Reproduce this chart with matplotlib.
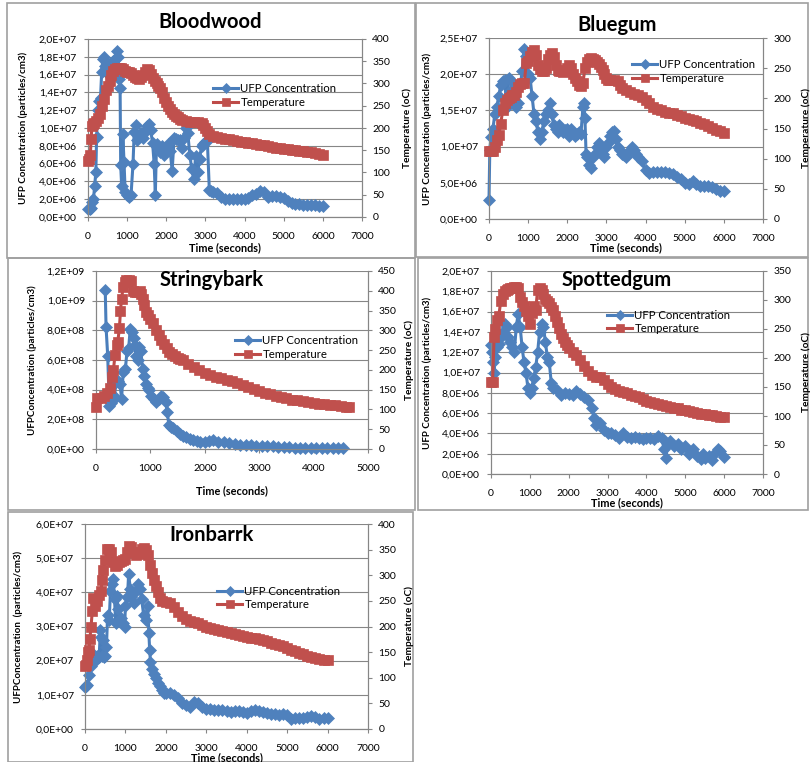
import numpy as np
import matplotlib
matplotlib.use("Agg")
import matplotlib.pyplot as plt
from matplotlib.ticker import FuncFormatter, MultipleLocator
from matplotlib.patches import Rectangle

plt.rcParams['font.family'] = ['Lato', 'DejaVu Sans']

# ---------------- DATA ----------------
# Bloodwood
bw_t_time = [0, 30, 60, 80, 100, 130, 160, 200, 250, 300, 350, 400, 450, 500, 550, 600, 650, 700, 750, 800,
             850, 900, 950, 1000, 1050, 1100, 1150, 1200, 1250, 1300, 1350, 1400, 1450, 1500, 1550, 1600, 1650,
             1700, 1750, 1800, 1850, 1900, 1950, 2000, 2050, 2100, 2150, 2200, 2250, 2300, 2350, 2400, 2500,
             2600, 2700, 2800, 2900, 2950, 3000, 3050, 3100, 3200, 3300, 3400, 3500, 3600, 3700, 3800, 3900,
             4000, 4100, 4200, 4300, 4400, 4500, 4600, 4700, 4800, 4900, 5000, 5100, 5200, 5300, 5400, 5500,
             5600, 5700, 5800, 5900, 6000]
bw_temp = [125, 130, 140, 175, 205, 210, 212, 215, 222, 232, 250, 265, 285, 295, 305, 318, 328, 332, 335, 335,
           334, 332, 328, 326, 325, 323, 318, 314, 312, 311, 314, 318, 326, 332, 330, 322, 312,
           306, 300, 295, 289, 280, 268, 258, 250, 242, 237, 232, 227, 224, 220, 217, 215,
           214, 214, 213, 211, 206, 200, 193, 187, 183, 180, 178, 176, 175, 173, 171, 169,
           168, 167, 166, 164, 162, 161, 159, 157, 156, 155, 153, 152, 151, 150, 149, 148,
           147, 146, 144, 142, 140]
bw_u_time = [0, 40, 80, 110, 140, 170, 200, 220, 250, 280, 320, 350, 380, 410, 440, 470, 500, 530, 570, 610,
             650, 690, 730, 770, 800, 820, 835, 860, 890, 920, 950, 1000, 1050, 1100, 1150, 1180, 1220, 1260,
             1300, 1350, 1400, 1450, 1500, 1560, 1600, 1650, 1690, 1720, 1750, 1800, 1850, 1900, 1950, 2000,
             2050, 2100, 2150, 2200, 2250, 2300, 2350, 2400, 2450, 2500, 2550, 2600, 2650, 2700, 2750, 2800,
             2850, 2900, 2950, 3000, 3050, 3100, 3150, 3200, 3300, 3400, 3500, 3600, 3700, 3800, 3900, 4000,
             4100, 4200, 4300, 4400, 4500, 4600, 4700, 4800, 4900, 5000, 5100, 5200, 5300, 5400, 5500, 5600,
             5700, 5800, 5900, 6000]
bw_ufp = [0.9, 0.9, 1.0, 1.7, 2.0, 3.5, 5.0, 9.0, 12.0, 13.0, 13.4, 16.3, 17.8, 18.0, 17.0, 16.5, 17.2, 16.0, 16.8, 17.2,
          17.5, 17.8, 18.7, 18.0, 15.5, 14.5, 5.8, 3.5, 9.3, 6.2, 2.8, 2.5, 2.3, 2.5, 6.0, 9.5, 10.3, 8.6,
          9.2, 9.4, 8.9, 9.6, 10.2, 10.4, 9.8, 8.3, 6.0, 2.5, 8.2, 7.8, 7.3, 8.0, 7.0, 7.9,
          8.2, 7.4, 5.2, 8.9, 8.8, 8.7, 8.6, 7.8, 8.9, 10.0, 9.4, 7.0, 5.4, 4.3, 6.8, 5.0,
          6.5, 8.0, 8.2, 8.4, 8.5, 3.0, 2.9, 2.8, 2.7, 2.2, 2.0, 2.0, 2.0, 2.0, 2.0, 2.0,
          2.1, 2.5, 2.6, 2.9, 2.8, 2.2, 2.4, 2.4, 2.3, 2.1, 1.8, 1.6, 1.5, 1.5, 1.4, 1.4,
          1.3, 1.3, 1.2, 1.2]

# Bluegum
bg_t_time = [0, 50, 100, 150, 200, 250, 300, 350, 400, 450, 500, 550, 600, 650, 700, 750, 800, 850, 900, 950,
             1000, 1050, 1100, 1150, 1200, 1250, 1300, 1350, 1400, 1450, 1500, 1550, 1600, 1650, 1700, 1750,
             1800, 1850, 1900, 1950, 2000, 2050, 2100, 2150, 2200, 2250, 2300, 2350, 2400, 2450, 2500, 2550,
             2600, 2650, 2700, 2750, 2800, 2850, 2900, 2950, 3000, 3050, 3100, 3200, 3300, 3350, 3400, 3500,
             3600, 3700, 3800, 3900, 4000, 4100, 4200, 4300, 4400, 4500, 4600, 4700, 4800, 4900, 5000, 5100,
             5200, 5300, 5400, 5500, 5600, 5700, 5800, 5900, 6000]
bg_temp = [112, 112, 113, 120, 131, 139, 158, 180, 192, 198, 200, 202, 205, 206, 210, 218, 224, 225, 225, 258,
           262, 270, 276, 280, 272, 256, 248, 245, 246, 250, 265, 272, 275, 268, 255, 247,
           246, 245, 244, 245, 250, 256, 250, 240, 234, 228, 222, 220, 225, 250, 261, 265,
           267, 266, 264, 261, 257, 252, 247, 240, 233, 230, 230, 231, 228, 222, 217, 214,
           211, 208, 205, 202, 198, 192, 186, 183, 180, 178, 176, 175, 173, 170, 168, 166,
           164, 162, 159, 157, 154, 151, 148, 146, 143]
bg_u_time = [0, 20, 50, 100, 150, 200, 250, 300, 350, 400, 450, 500, 550, 600, 650, 700, 750, 800, 850, 900,
             950, 1000, 1050, 1100, 1150, 1200, 1250, 1300, 1350, 1400, 1450, 1500, 1550, 1600, 1650, 1700,
             1750, 1800, 1850, 1900, 1950, 2000, 2050, 2100, 2150, 2200, 2250, 2300, 2350, 2400, 2420, 2450,
             2480, 2500, 2550, 2600, 2650, 2700, 2750, 2800, 2850, 2900, 2950, 3000, 3050, 3100, 3150, 3200,
             3250, 3300, 3350, 3400, 3450, 3500, 3550, 3600, 3650, 3700, 3750, 3800, 3900, 4000, 4100, 4200,
             4300, 4400, 4500, 4600, 4700, 4800, 4900, 5000, 5100, 5200, 5300, 5400, 5500, 5600, 5700, 5800,
             5900, 6000]
bg_ufp = [2.6, 9.5, 11.3, 12.5, 14.5, 15.5, 17.0, 18.5, 19.0, 19.2, 15.5, 19.5, 19.0, 18.0, 16.5, 15.5, 16.0, 18.5, 20.5, 23.5,
          22.5, 20.0, 19.5, 17.0, 14.5, 13.5, 12.0, 11.0, 12.0, 13.5, 14.5, 15.0, 16.0, 14.5, 13.0, 12.5,
          12.0, 13.0, 12.5, 12.0, 12.3, 12.5, 11.5, 12.5, 12.0, 11.5, 11.8, 12.0, 11.8, 15.5, 16.0, 14.0,
          9.0, 8.5, 7.5, 7.0, 8.5, 9.0, 10.0, 10.5, 10.0, 9.0, 8.5, 10.0, 10.5, 11.5, 12.0, 12.2,
          11.0, 10.0, 9.5, 9.0, 8.8, 8.5, 9.0, 9.5, 10.0, 9.5, 9.0, 8.5, 8.0, 6.8, 6.3, 6.5,
          6.5, 6.5, 6.5, 6.4, 6.2, 5.8, 5.5, 5.0, 4.8, 5.2, 4.8, 4.6, 4.5, 4.6, 4.4, 4.1,
          3.9, 3.8]

# Stringybark
sb_t_time = [0, 20, 100, 150, 200, 250, 300, 320, 350, 380, 400, 430, 450, 470, 500, 530, 560, 600, 640, 675,
             720, 760, 800, 830, 860, 890, 920, 950, 1000, 1050, 1100, 1150, 1200, 1250, 1300, 1350, 1400,
             1450, 1500, 1550, 1600, 1700, 1800, 1900, 2000, 2100, 2200, 2300, 2400, 2500, 2600, 2700, 2800,
             2900, 3000, 3100, 3200, 3300, 3400, 3500, 3600, 3700, 3800, 3900, 4000, 4100, 4200, 4300, 4400,
             4500, 4600, 4650]
sb_temp = [107, 128, 130, 135, 141, 155, 183, 200, 238, 262, 271, 305, 350, 380, 410, 422, 426, 426, 424, 400,
           398, 398, 400, 392, 380, 365, 347, 338, 328, 318, 300, 287, 275, 265, 256, 246, 239,
           234, 230, 227, 224, 216, 207, 200, 193, 188, 183, 179, 175, 171, 166, 161, 157,
           152, 147, 142, 138, 134, 131, 128, 125, 123, 121, 119, 117, 115, 113, 111, 110,
           109, 107, 105]
sb_u_time = [170, 185, 215, 245, 280, 310, 340, 370, 400, 440, 470, 500, 540, 570, 600, 630, 660, 690, 710, 735,
             765, 795, 825, 855, 885, 915, 950, 980, 1020, 1060, 1100, 1150, 1200, 1240, 1280, 1310, 1340,
             1380, 1420, 1480, 1540, 1600, 1660, 1720, 1780, 1850, 1920, 2000, 2080, 2150, 2250, 2350, 2450,
             2550, 2650, 2750, 2850, 2950, 3050, 3150, 3250, 3350, 3450, 3550, 3650, 3750, 3850, 3950, 4050,
             4150, 4250, 4350, 4450, 4540]
sb_ufp = [10.7, 8.2, 6.3, 2.9, 3.1, 3.3, 3.6, 4.5, 4.6, 4.4, 3.4, 5.2, 5.4, 6.6, 6.8, 8.1, 7.9, 7.5, 7.0, 6.3,
          6.0, 6.9, 6.6, 5.4, 4.9, 4.4, 4.1, 4.0, 3.6, 3.4, 3.2, 3.4, 3.6, 3.5, 3.2, 2.5, 1.6,
          1.45, 1.4, 1.2, 1.0, 0.9, 0.8, 0.7, 0.6, 0.55, 0.5, 0.5, 0.55, 0.6, 0.5, 0.45, 0.4,
          0.35, 0.3, 0.25, 0.25, 0.2, 0.2, 0.18, 0.17, 0.15, 0.13, 0.12, 0.1, 0.1, 0.1, 0.1, 0.1,
          0.09, 0.08, 0.08, 0.07, 0.06]

# Spottedgum
sg_t_time = [0, 40, 80, 100, 150, 200, 250, 300, 350, 400, 450, 500, 550, 600, 650, 700, 750, 800, 850, 900,
             950, 1000, 1050, 1100, 1150, 1200, 1250, 1300, 1350, 1400, 1450, 1500, 1550, 1600, 1650, 1700,
             1750, 1800, 1850, 1900, 1950, 2000, 2100, 2200, 2300, 2400, 2500, 2600, 2700, 2800, 2900, 3000,
             3100, 3200, 3300, 3400, 3500, 3600, 3700, 3800, 3900, 4000, 4100, 4200, 4300, 4400, 4500, 4600,
             4700, 4800, 4900, 5000, 5100, 5200, 5300, 5400, 5500, 5600, 5700, 5800, 5900, 6000]
sg_temp = [158, 158, 236, 250, 265, 272, 298, 310, 315, 318, 319, 320, 321, 322, 322, 320, 305, 296, 290, 281,
           272, 258, 278, 290, 282, 318, 321, 318, 310, 302, 298, 294, 288, 282, 272, 262,
           252, 242, 235, 228, 223, 218, 211, 205, 196, 186, 177, 170, 168, 167, 162, 155,
           150, 146, 143, 141, 139, 137, 134, 132, 129, 126, 124, 122, 120, 119, 117, 116,
           114, 113, 111, 110, 108, 107, 105, 104, 103, 102, 101, 100, 99, 98]
sg_u_time = [0, 20, 50, 80, 100, 150, 200, 250, 300, 350, 400, 450, 500, 550, 600, 650, 700, 750, 800, 850,
             900, 950, 1000, 1050, 1100, 1150, 1200, 1250, 1300, 1350, 1400, 1450, 1500, 1550, 1600, 1700,
             1800, 1900, 2000, 2100, 2200, 2300, 2400, 2500, 2600, 2650, 2700, 2800, 2900, 3000, 3100, 3200,
             3300, 3400, 3500, 3600, 3700, 3800, 3900, 4000, 4100, 4200, 4300, 4400, 4450, 4500, 4550, 4600,
             4700, 4800, 4900, 5000, 5100, 5200, 5300, 5400, 5450, 5500, 5600, 5700, 5800, 5850, 5900, 6000]
sg_ufp = [12.7, 12.0, 11.0, 10.0, 11.5, 12.5, 12.8, 13.5, 14.0, 14.8, 14.5, 13.5, 13.0, 12.5, 12.0, 14.5, 15.8, 14.5, 12.5, 11.0,
          10.0, 8.5, 8.0, 8.5, 9.5, 10.5, 12.0, 14.0, 14.8, 14.5, 13.0, 11.5, 11.0, 9.0, 8.5, 8.3,
          7.8, 8.0, 7.9, 7.8, 8.2, 7.9, 7.6, 7.3, 6.5, 5.5, 4.8, 5.0, 4.3, 4.0, 4.0, 3.8,
          3.5, 4.0, 3.6, 3.5, 3.6, 3.5, 3.4, 3.5, 3.5, 3.4, 3.7, 3.5, 2.5, 1.6, 3.0, 3.3,
          2.8, 3.0, 2.5, 2.8, 2.0, 2.5, 1.8, 1.5, 2.0, 1.6, 1.8, 1.4, 2.2, 2.5, 2.3, 1.7]

# Ironbarrk
ib_t_time = [0, 20, 50, 80, 100, 120, 150, 180, 200, 250, 300, 350, 400, 420, 450, 500, 550, 600, 650, 700,
             750, 800, 850, 900, 950, 1000, 1050, 1100, 1150, 1200, 1250, 1300, 1350, 1400, 1450, 1500, 1550,
             1600, 1650, 1700, 1750, 1800, 1850, 1900, 2000, 2100, 2200, 2300, 2400, 2500, 2600, 2700, 2800,
             2900, 3000, 3100, 3200, 3300, 3400, 3500, 3600, 3700, 3800, 3900, 4000, 4100, 4200, 4300, 4400,
             4500, 4600, 4700, 4800, 4900, 5000, 5100, 5200, 5300, 5400, 5500, 5600, 5700, 5800, 5900, 6000]
ib_temp = [122, 125, 135, 150, 155, 175, 200, 230, 255, 240, 250, 262, 270, 290, 310, 330, 352, 352, 345, 325,
           318, 320, 325, 328, 330, 332, 345, 358, 355, 345, 340, 342, 345, 352, 353, 350, 340,
           320, 305, 290, 280, 268, 255, 250, 248, 245, 238, 228, 220, 214, 210, 208, 206,
           203, 200, 197, 195, 193, 191, 190, 188, 186, 184, 182, 180, 178, 177, 175, 173,
           171, 168, 166, 163, 161, 158, 155, 152, 149, 146, 143, 141, 139, 137, 135, 134]
ib_u_time = [0, 30, 60, 100, 150, 180, 200, 250, 300, 350, 380, 400, 430, 450, 480, 500, 530, 560, 600, 630,
             670, 700, 730, 760, 790, 820, 850, 900, 950, 980, 1000, 1050, 1080, 1120, 1150, 1200, 1250,
             1300, 1350, 1400, 1450, 1500, 1550, 1580, 1600, 1620, 1650, 1700, 1750, 1800, 1850, 1900, 1950,
             2000, 2100, 2200, 2300, 2400, 2500, 2600, 2700, 2800, 2900, 3000, 3100, 3200, 3300, 3400, 3500,
             3600, 3700, 3800, 3900, 4000, 4100, 4200, 4300, 4400, 4500, 4600, 4700, 4800, 4900, 5000, 5100,
             5200, 5300, 5400, 5500, 5600, 5700, 5800, 5900, 6000]
ib_ufp = [12.4, 12.5, 13.0, 15.8, 18.5, 20.5, 22.0, 20.0, 21.5, 21.0, 29.0, 27.0, 21.5, 26.0, 21.0, 21.5, 24.0, 33.5, 32.0, 40.5,
          42.5, 44.0, 38.0, 31.0, 39.0, 35.0, 32.0, 32.5, 31.0, 30.0, 36.0, 38.5, 45.5, 41.0, 38.5, 37.0, 40.5,
          42.5, 41.0, 38.0, 33.5, 32.0, 36.0, 28.0, 23.0, 19.5, 17.5, 16.0, 15.0, 13.5, 12.5, 11.5, 10.5,
          10.5, 10.5, 10.0, 9.0, 7.5, 7.0, 6.5, 8.0, 7.5, 6.5, 6.0, 5.8, 5.5, 5.6, 5.5, 5.2,
          5.0, 5.3, 5.2, 5.0, 4.8, 5.2, 5.5, 5.2, 5.0, 4.8, 4.5, 4.4, 4.2, 4.3, 4.0, 3.0,
          3.2, 3.2, 3.3, 3.5, 3.8, 3.5, 3.0, 3.1, 3.2]

titles = ["Bloodwood", "Bluegum", "Stringybark", "Spottedgum", "Ironbarrk"]
ufp_scale = [1e6, 1e6, 1e8, 1e6, 1e6]
series = [
    (bw_u_time, bw_ufp, bw_t_time, bw_temp),
    (bg_u_time, bg_ufp, bg_t_time, bg_temp),
    (sb_u_time, sb_ufp, sb_t_time, sb_temp),
    (sg_u_time, sg_ufp, sg_t_time, sg_temp),
    (ib_u_time, ib_ufp, ib_t_time, ib_temp),
]
ylabels = ["UFP Concentration (particles/cm3)", "UFP Concentration (particles/cm3)",
           "UFPConcentration (particles/cm3)", "UFP Concentration (particles/cm3)",
           "UFPConcentration  (particles/cm3)"]

# ---------------- LAYOUT ----------------
W, H = 810, 762
fig = plt.figure(figsize=(W / 100, H / 100), dpi=100)
fig.patch.set_facecolor('white')

axes_px = [(88, 39, 362, 217), (489, 38, 763, 219), (96, 271, 368, 449),
           (491, 271, 763, 474), (85, 524, 368, 729)]
boxes_px = [(7, 3, 415, 258), (416, 3, 808, 257), (8, 258, 415, 510),
            (418, 258, 808, 510), (8, 512, 413, 762)]
xlims = [7000, 7000, 5000, 7000, 7000]
ylims = [(2e7, 2e6), (2.5e7, 5e6), (1.2e9, 2e8), (2e7, 2e6), (6e7, 1e7)]
tlims = [400, 300, 450, 350, 400]
title_pos = [(210, 22), (617, 25), (212, 280), (617, 280), (212, 535)]
xlabel_y = [248, 248, 491, 503, 758]
ylab_x = [23, 427, 32, 427, 18]
tlab_x = [407, 806, 409, 806, 409]
legend_pos = [(213, 95.5), (632, 71.5), (235, 347.5), (607, 322), (217, 598)]

BLUE = '#4A7EBB'
BLUEF = '#4F81BD'
RED = '#BE4B48'
REDF = '#C0504D'
GRAY = '#868686'

def sci_fmt(v, pos):
    return ("%.1E" % v).replace('.', ',')

for i in range(5):
    x0, y0, x1, y1 = boxes_px[i]
    fig.add_artist(Rectangle((x0 / W, 1 - y1 / H), (x1 - x0) / W, (y1 - y0) / H,
                             transform=fig.transFigure, fill=False, ec='#A0A0A0', lw=1.2))

    ax0, ay0, ax1, ay1 = axes_px[i]
    ax = fig.add_axes([ax0 / W, 1 - ay1 / H, (ax1 - ax0) / W, (ay1 - ay0) / H])
    ax2 = ax.twinx()
    ut, uv, tt, tv = series[i]
    uv = np.array(uv) * ufp_scale[i]

    l1, = ax.plot(ut, uv, color=BLUE, lw=2.2, marker='D', ms=6.0, mfc=BLUEF, mec=BLUEF,
                  mew=0.5, label='UFP Concentration', clip_on=False, zorder=3)
    l2, = ax2.plot(tt, tv, color=RED, lw=2.2, marker='s', ms=6.5, mfc=REDF, mec=REDF,
                   mew=0.5, label='Temperature', clip_on=False, zorder=3)

    ax.set_xlim(0, xlims[i])
    ax.set_ylim(0, ylims[i][0])
    ax2.set_ylim(0, tlims[i])
    ax.xaxis.set_major_locator(MultipleLocator(1000))
    ax.yaxis.set_major_locator(MultipleLocator(ylims[i][1]))
    ax2.yaxis.set_major_locator(MultipleLocator(50))
    ax.yaxis.set_major_formatter(FuncFormatter(sci_fmt))

    ax.grid(axis='y', color=GRAY, lw=0.8)
    ax.set_axisbelow(True)
    for a in (ax, ax2):
        a.patch.set_visible(False)
        a.spines['top'].set_visible(False)
        for s in ('left', 'right', 'bottom'):
            a.spines[s].set_color(GRAY)
            a.spines[s].set_linewidth(0.8)
        a.tick_params(colors=GRAY, labelcolor='black', length=3, width=0.8, labelsize=7.5, direction='out')
    ax.tick_params(axis='x', pad=8)
    ax.tick_params(axis='y', pad=5)
    ax2.tick_params(axis='y', pad=4.5)

    cx = (ax0 + ax1) / 2
    cy = (ay0 + ay1) / 2
    fig.text(title_pos[i][0] / W, 1 - title_pos[i][1] / H, titles[i], ha='center', va='center',
             fontsize=14.5, fontweight='bold')
    fig.text(cx / W, 1 - xlabel_y[i] / H, 'Time (seconds)', ha='center', va='center',
             fontsize=7.8, fontweight='bold')
    fig.text(ylab_x[i] / W, 1 - cy / H, ylabels[i], ha='center', va='center', rotation=90,
             fontsize=7, fontweight='bold')
    fig.text(tlab_x[i] / W, 1 - cy / H, 'Temperature (oC)', ha='center', va='center', rotation=90,
             fontsize=7.3, fontweight='bold')

    lx, ly = legend_pos[i]
    ax2.legend(handles=[l1, l2], loc='center left', bbox_to_anchor=(lx / W, 1 - ly / H),
               bbox_transform=fig.transFigure, frameon=False, fontsize=8.2, borderpad=0,
               borderaxespad=0, handlelength=2.2, handletextpad=0.2, labelspacing=0.25,
               markerscale=0.85)

fig.savefig('out.png', dpi=100)
